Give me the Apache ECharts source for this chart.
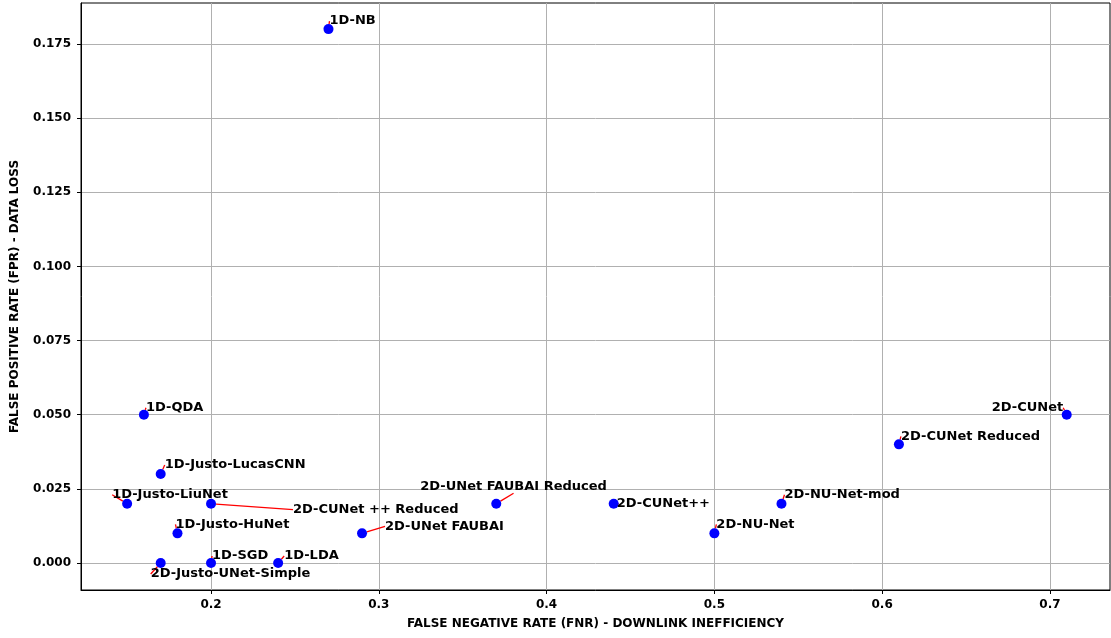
<!DOCTYPE html>
<html>
<head>
<meta charset="utf-8">
<script src="https://cdn.jsdelivr.net/npm/echarts@6/dist/echarts.min.js"></script>
<style>
  html, body { margin: 0; padding: 0; background: #fff; }
  #chart { width: 1111px; height: 638px; }
</style>
</head>
<body>
<div id="chart"></div>
<script>
// model names and their error rates
const models = [
  '1D-NB', '1D-QDA', '1D-Justo-LucasCNN', '1D-Justo-LiuNet', '2D-CUNet ++ Reduced',
  '1D-Justo-HuNet', '2D-Justo-UNet-Simple', '1D-SGD', '1D-LDA', '2D-UNet FAUBAI',
  '2D-UNet FAUBAI Reduced', '2D-CUNet++', '2D-NU-Net', '2D-NU-Net-mod',
  '2D-CUNet Reduced', '2D-CUNet'
];
const fnr = [0.27, 0.16, 0.17, 0.15, 0.20, 0.18, 0.17, 0.20, 0.24, 0.29, 0.37, 0.44, 0.50, 0.54, 0.61, 0.71];
const fpr = [0.18, 0.05, 0.03, 0.02, 0.02, 0.01, 0.00, 0.00, 0.00, 0.01, 0.02, 0.02, 0.01, 0.02, 0.04, 0.05];

// tick values shown on the axes
const xTicks = [0.2, 0.3, 0.4, 0.5, 0.6, 0.7];
const yTicks = [0, 0.025, 0.05, 0.075, 0.1, 0.125, 0.15, 0.175];

// label offsets in px from the marker (left edge, vertical middle of text)
const labelDx = [1, 2, 4, -15, 82, -2, -10, 1, 6, 23, -76, 3, 2, 3, 2, -75];
const labelDy = [-8, -7, -9, -9, 6, -9, 11, -7, -7, -7, -17, 0, -9, -9, -8, -7];

const chart = echarts.init(document.getElementById('chart'));

const font = 'DejaVu Sans';
const tickFont = { fontFamily: font, fontWeight: 'bold', fontSize: 12, color: '#000' };

chart.setOption({
  animation: false,
  grid: {
    left: 81, right: 1, top: 3, bottom: 48,
    outerBoundsMode: 'none',
    containLabel: false,
    show: true, borderColor: '#000', borderWidth: 1
  },
  xAxis: {
    type: 'value',
    min: 0.1225, max: 0.7358,
    name: 'FALSE NEGATIVE RATE (FNR) - DOWNLINK INEFFICIENCY',
    nameLocation: 'middle',
    nameGap: 28,
    nameTextStyle: tickFont,
    axisLine: { show: true, onZero: false, lineStyle: { color: '#000' } },
    axisTick: { show: true, length: 4, customValues: xTicks, lineStyle: { color: '#000' } },
    axisLabel: Object.assign({ margin: 9, customValues: xTicks,
      formatter: v => v.toFixed(1) }, tickFont),
    splitLine: { show: true, lineStyle: { color: '#b0b0b0', width: 1 } }
  },
  yAxis: {
    type: 'value',
    min: -0.0091, max: 0.1888,
    name: 'FALSE POSITIVE RATE (FPR) - DATA LOSS',
    nameLocation: 'middle',
    nameGap: 60,
    nameTextStyle: tickFont,
    axisLine: { show: true, onZero: false, lineStyle: { color: '#000' } },
    axisTick: { show: true, length: 4, customValues: yTicks, lineStyle: { color: '#000' } },
    axisLabel: Object.assign({ margin: 10, customValues: yTicks,
      formatter: v => v.toFixed(3) }, tickFont),
    splitLine: { show: true, lineStyle: { color: '#b0b0b0', width: 1 } }
  },
  series: [{
    type: 'scatter',
    symbol: 'circle',
    symbolSize: 10,
    itemStyle: { color: '#0000ff', opacity: 1 },
    data: models.map((m, i) => ({ name: m, value: [fnr[i], fpr[i]] })),
    label: {
      show: true,
      formatter: p => p.name,
      fontFamily: font, fontWeight: 'bold', fontSize: 13, color: '#000'
    },
    labelLine: {
      show: true,
      lineStyle: { color: '#ff0000', width: 1.3 }
    },
    labelLayout: function (params) {
      const i = params.dataIndex;
      const r = params.rect;
      return {
        x: r.x + r.width / 2 + labelDx[i],
        y: r.y + r.height / 2 + labelDy[i],
        align: 'left',
        verticalAlign: 'middle'
      };
    }
  }]
});
</script>
</body>
</html>
